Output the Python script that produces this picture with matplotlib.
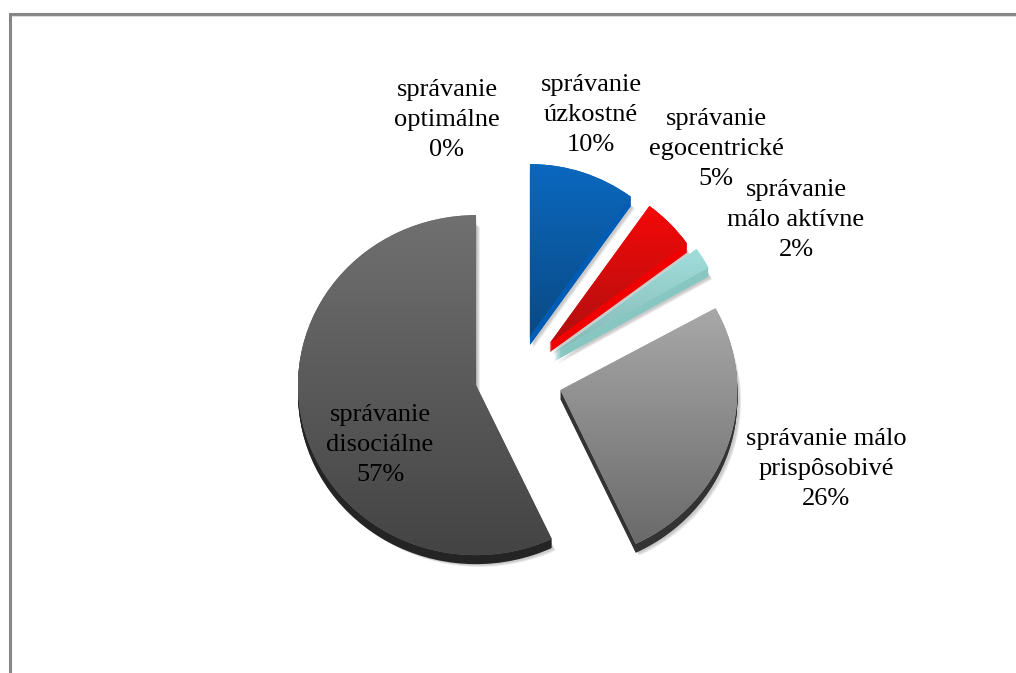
import numpy as np
import matplotlib
matplotlib.use('Agg')
import matplotlib.pyplot as plt
from matplotlib.colors import LinearSegmentedColormap
from matplotlib.transforms import Affine2D

plt.rcParams['font.family'] = ['Liberation Serif', 'DejaVu Serif']

W, H = 1016, 673

labels = ['správanie\noptimálne', 'správanie\núzkostné', 'správanie\negocentrické',
          'správanie\nmálo aktívne', 'správanie málo\nprispôsobivé', 'správanie\ndisociálne']
values = [0, 10, 5, 2, 26, 57]

# how far each slice is pulled out, in pixels (pie takes data units here)
explode = [42, 42, 46, 44, 45.6, 42]
# the picture has perspective: slices do not all have the same size
radii = [172, 172, 170, 176, 177, 178]
squash = [1, 1, 1, 1, 0.96, 0.955]

top_colors = ['#0a66bd', '#0a68bf', '#f50808', '#a0dedb', '#a8a8a8', '#707070']
bottom_colors = ['#0a4d8a', '#0a4a85', '#b01010', '#86b8b5', '#6a6a6a', '#444444']
side_colors = ['#005cb5', '#005cb5', '#f00000', '#88c6c2', '#333333', '#242424']

label_pos = [(447, 120), (591, 115), (716, 149), (796, 220), (826, 469), (380, 445)]

center = (517, H - 376)
depth = 9

fig = plt.figure(figsize=(W / 100, H / 100), dpi=100)
ax = fig.add_axes([0, 0, 1, 1])


def draw_pie(dx, dy, colors, z, alpha=None):
    wedges, _ = ax.pie(values, explode=explode, colors=colors, startangle=90,
                       counterclock=False, radius=177, center=center,
                       wedgeprops=dict(zorder=z, linewidth=0, alpha=alpha))
    ax.set_xlim(0, W)
    ax.set_ylim(0, H)
    ax.set_aspect('auto')
    for w, r, s in zip(wedges, radii, squash):
        cx, cy = w.center
        w.set_radius(r)
        w.set_transform(Affine2D().translate(-cx, -cy).scale(1, s)
                        .translate(cx + dx, cy + dy) + ax.transData)
    return wedges


# soft shadow
for i in range(4):
    draw_pie(2 + i * 0.6, -depth - 1 - i * 0.6, ['#808080'] * 6, 1, alpha=0.12)

# side of the slices
for d in range(depth, 0, -1):
    draw_pie(0, -d, side_colors, 2)

# top face with a vertical gradient
faces = draw_pie(0, 0, top_colors, 3)
for w, v, c1, c2 in zip(faces, values, top_colors, bottom_colors):
    if v == 0:
        continue
    bb = w.get_window_extent()
    cmap = LinearSegmentedColormap.from_list('g', [c2, c1])
    im = ax.imshow(np.linspace(1, 0, 128).reshape(-1, 1), cmap=cmap, aspect='auto',
                   extent=(bb.x0, bb.x1, bb.y0, bb.y1), zorder=4, vmin=0, vmax=1)
    im.set_clip_path(w)

for lab, v, (x, y) in zip(labels, values, label_pos):
    ax.text(x, H - y, f'{lab}\n{v}%', ha='center', va='center', fontsize=19,
            linespacing=1.45, color='black', zorder=6)

# outer frame of the sheet
ax.plot([9.5, 9.5, W], [0, H - 13.5, H - 13.5], color='#868686', lw=2.2,
        solid_joinstyle='miter', zorder=5)
ax.plot([11.5, W], [H - 15.5, H - 15.5], color='#dcdcdc', lw=0.8, zorder=5)

ax.set_xlim(0, W)
ax.set_ylim(0, H)
ax.set_aspect('auto')
ax.axis('off')
fig.savefig('out.png', dpi=100, facecolor='white')
